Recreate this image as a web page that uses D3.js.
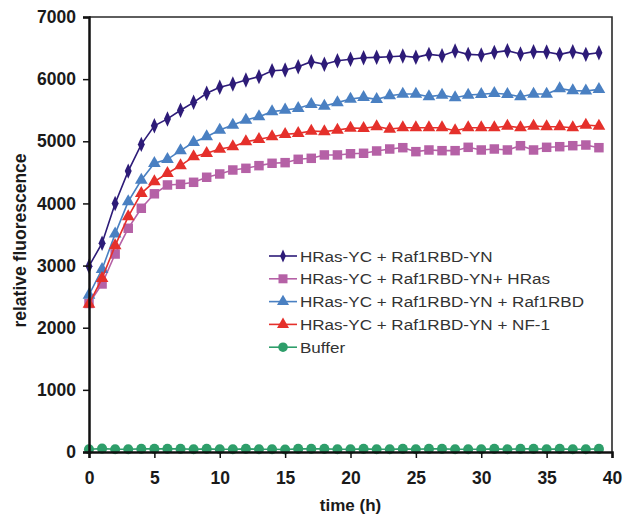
<!DOCTYPE html>
<html><head><meta charset="utf-8">
<script src="https://cdn.jsdelivr.net/npm/d3@7"></script>
<style>body{margin:0;background:#fff}svg{display:block}text{font-family:"Liberation Sans",Arial,sans-serif}</style>
</head><body>
<script>
const timeH = d3.range(0, 40);
const seriesNames = ["HRas-YC + Raf1RBD-YN","HRas-YC + Raf1RBD-YN+ HRas","HRas-YC + Raf1RBD-YN + Raf1RBD","HRas-YC + Raf1RBD-YN + NF-1","Buffer"];
const hrasRaf = [2990,3360,4000,4520,4950,5250,5360,5500,5627,5772,5869,5922,5986,6040,6136,6147,6200,6281,6239,6297,6320,6345,6351,6361,6372,6351,6399,6377,6453,6399,6388,6431,6458,6404,6442,6436,6399,6442,6399,6426];
const hrasRafHras = [2390,2704,3186,3600,3922,4155,4297,4308,4340,4421,4474,4538,4565,4608,4646,4656,4710,4726,4780,4780,4800,4807,4844,4876,4897,4833,4860,4849,4849,4903,4860,4876,4860,4929,4860,4903,4913,4929,4940,4897];
const hrasRafRbd = [2527,2940,3510,4028,4377,4646,4710,4849,4984,5074,5182,5262,5343,5396,5477,5504,5531,5595,5568,5622,5680,5707,5675,5734,5761,5761,5718,5745,5702,5745,5756,5772,5756,5718,5761,5761,5847,5815,5810,5836];
const hrasRafNf1 = [2382,2795,3320,3787,4163,4350,4485,4608,4752,4807,4876,4913,4994,5032,5074,5112,5128,5166,5155,5182,5212,5209,5235,5198,5219,5219,5219,5219,5171,5219,5219,5219,5246,5219,5246,5235,5235,5219,5262,5246];
const buffer = [45,55,45,45,50,50,50,50,45,50,45,45,50,45,45,40,50,50,50,45,45,50,45,45,50,45,50,50,45,45,45,50,45,50,50,45,50,45,45,50];
const yTicks = [0,1000,2000,3000,4000,5000,6000,7000];
const xTicks = [0,5,10,15,20,25,30,35,40];

const allSeries = [hrasRaf, hrasRafHras, hrasRafRbd, hrasRafNf1, buffer];
const colors = ["#2d1b78","#b561a6","#4a80c2","#e5302b","#2e9e6a"];
const symbols = [d3.symbolDiamond, d3.symbolSquare, d3.symbolTriangle, d3.symbolTriangle, d3.symbolCircle];
const symSizes = [52, 90, 70, 70, 80];

const W = 623, H = 525;
const m = {left:89, right:11, top:17, bottom:73};
const svg = d3.select("body").append("svg").attr("width",W).attr("height",H);
const x = d3.scaleLinear().domain([0,40]).range([m.left, W-m.right]);
const y = d3.scaleLinear().domain([0,7000]).range([H-m.bottom, m.top]);

// frame (top & right)
svg.append("path").attr("d",`M${x(0)},${y(7000)}H${x(40)}V${y(0)}`).attr("fill","none").attr("stroke","#2a2a2a").attr("stroke-width",1.6);

const sym = (i) => d3.symbol().type(symbols[i]).size(symSizes[i]);

allSeries.forEach((vals,i)=>{
  const g = svg.append("g");
  const line = d3.line().x((d,j)=>x(timeH[j])).y(d=>y(d));
  g.append("path").datum(vals).attr("d",line).attr("fill","none").attr("stroke",colors[i]).attr("stroke-width",1.6);
  g.selectAll("path.m").data(vals).join("path").attr("class","m")
    .attr("transform",(d,j)=>`translate(${x(timeH[j])},${y(d)})${i===0?" scale(0.9,1.15)":""}`)
    .attr("d",sym(i)()).attr("fill",colors[i]);
});

// axes
const ya = svg.append("g").attr("transform",`translate(${x(0)},0)`)
  .call(d3.axisLeft(y).tickValues(yTicks).tickSize(6).tickPadding(7).tickFormat(d3.format("d")));
const xa = svg.append("g").attr("transform",`translate(0,${y(0)})`)
  .call(d3.axisBottom(x).tickValues(xTicks).tickSize(6).tickPadding(14).tickFormat(d3.format("d")));
[ya,xa].forEach(a=>{
  a.select(".domain").attr("stroke","#111").attr("stroke-width",2.5);
  a.selectAll(".tick line").attr("stroke","#111").attr("stroke-width",1.5);
  a.selectAll("text").attr("font-size",17.5).attr("font-weight","bold").attr("fill","#1a1a1a").style("font-family","'Liberation Sans',Arial,sans-serif");
});

svg.append("text").attr("x",x(20)).attr("y",511).attr("text-anchor","middle")
  .attr("font-size",17).attr("font-weight","bold").attr("fill","#1a1a1a").text("time (h)");
svg.append("text").attr("transform",`translate(26,${y(3500)+6}) rotate(-90)`).attr("text-anchor","middle")
  .attr("font-size",17.5).attr("font-weight","bold").attr("fill","#1a1a1a").text("relative fluorescence");

// legend
const lg = svg.append("g").attr("transform","translate(269,256)");
seriesNames.forEach((n,i)=>{
  const r = lg.append("g").attr("transform",`translate(0,${i*22.8})`);
  r.append("line").attr("x1",0).attr("x2",28).attr("stroke",colors[i]).attr("stroke-width",1.6);
  r.append("path").attr("transform",`translate(14,0)${i===0?" scale(0.9,1.15)":""}`).attr("d",d3.symbol().type(symbols[i]).size(symSizes[i]*(i===0?0.7:0.9))()).attr("fill",colors[i]);
  r.append("text").attr("transform","translate(31,5.5) scale(1.1,1)").attr("font-size",15.5).attr("fill","#333").text(n);
});
</script>
</body></html>
